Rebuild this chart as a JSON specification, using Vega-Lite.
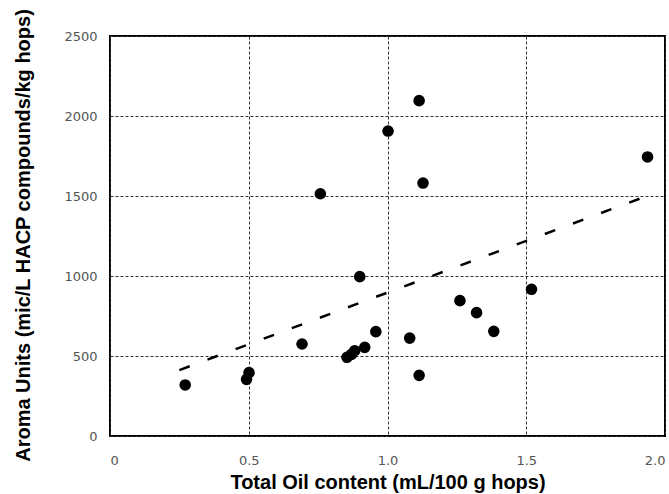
{
  "$schema": "https://vega.github.io/schema/vega-lite/v6.json",
  "width": 555,
  "height": 400,
  "autosize": {"type": "none"},
  "padding": {"left": 110, "top": 36, "right": 4, "bottom": 58},
  "background": "white",
  "config": {
    "view": {"stroke": "black", "strokeWidth": 2},
    "font": "Liberation Sans",
    "axis": {
      "grid": true,
      "gridColor": "#333333",
      "gridDash": [3, 2],
      "gridWidth": 1,
      "domain": false,
      "ticks": false,
      "labelColor": "#555555",
      "labelFont": "DejaVu Sans",
      "labelFontSize": 13,
      "titleFont": "Liberation Sans",
      "titleFontWeight": "bold",
      "titleFontSize": 20,
      "titleColor": "black"
    }
  },
  "datasets": {
    "points": [
      {"oil": 0.271, "aroma": 319},
      {"oil": 0.492, "aroma": 354},
      {"oil": 0.501, "aroma": 396},
      {"oil": 0.692, "aroma": 575},
      {"oil": 0.758, "aroma": 1514},
      {"oil": 0.854, "aroma": 492},
      {"oil": 0.870, "aroma": 510},
      {"oil": 0.882, "aroma": 533},
      {"oil": 0.918, "aroma": 554},
      {"oil": 0.900, "aroma": 996},
      {"oil": 0.958, "aroma": 652},
      {"oil": 1.002, "aroma": 1906},
      {"oil": 1.080, "aroma": 612},
      {"oil": 1.114, "aroma": 379},
      {"oil": 1.114, "aroma": 2096},
      {"oil": 1.128, "aroma": 1581},
      {"oil": 1.261, "aroma": 846},
      {"oil": 1.321, "aroma": 771},
      {"oil": 1.383, "aroma": 654},
      {"oil": 1.519, "aroma": 917},
      {"oil": 1.937, "aroma": 1744}
    ],
    "trend": [
      {"oil": 0.25, "aroma": 412},
      {"oil": 1.95, "aroma": 1510}
    ]
  },
  "layer": [
    {
      "data": {"name": "trend"},
      "mark": {"type": "line", "color": "black", "strokeWidth": 2.5, "strokeDash": [11, 19]},
      "encoding": {
        "x": {"field": "oil", "type": "quantitative"},
        "y": {"field": "aroma", "type": "quantitative"}
      }
    },
    {
      "data": {"name": "points"},
      "mark": {"type": "circle", "color": "black", "opacity": 1, "size": 135},
      "encoding": {
        "x": {
          "field": "oil",
          "type": "quantitative",
          "scale": {"domain": [0, 2], "nice": false, "zero": true},
          "axis": {
            "values": [0, 0.5, 1, 1.5, 2],
            "labelExpr": "datum.value == 0 ? '0' : format(datum.value, '.1f')",
            "labelPadding": 18,
            "title": "Total Oil content (mL/100 g hops)",
            "titlePadding": 5
          }
        },
        "y": {
          "field": "aroma",
          "type": "quantitative",
          "scale": {"domain": [0, 2500], "nice": false},
          "axis": {
            "values": [0, 500, 1000, 1500, 2000, 2500],
            "format": "d",
            "labelPadding": 13,
            "title": "Aroma Units (mic/L HACP compounds/kg hops)",
            "titleX": -87,
            "titleY": 199,
            "titleAngle": -90,
            "titleAlign": "center",
            "titleBaseline": "middle"
          }
        }
      }
    }
  ]
}
